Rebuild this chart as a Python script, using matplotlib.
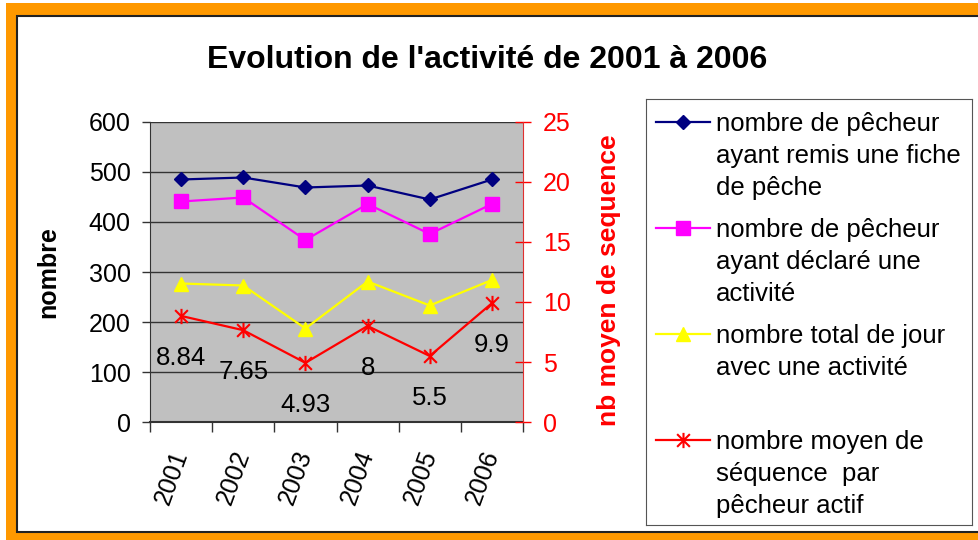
import matplotlib
matplotlib.use("Agg")
import matplotlib.pyplot as plt
from matplotlib.patches import Rectangle
from matplotlib.path import Path
from matplotlib.lines import Line2D

plt.rcParams['font.family'] = ['Liberation Sans', 'DejaVu Sans']

# donnees
annees = ['2001', '2002', '2003', '2004', '2005', '2006']
pecheurs_fiche = [485, 489, 469, 473, 445, 485]
pecheurs_activite = [441, 449, 364, 436, 376, 436]
jours_activite = [277, 273, 187, 281, 233, 284]
seq_moyen = [8.84, 7.65, 4.93, 8, 5.5, 9.9]

labels = ["nombre de pêcheur\nayant remis une fiche\nde pêche",
          "nombre de pêcheur\nayant déclaré une\nactivité",
          "nombre total de jour\navec une activité\n",
          "nombre moyen de\nséquence  par\npêcheur actif"]
couleurs = ['#000080', '#FF00FF', '#FFFF00', '#FF0000']

# etoile excel : croix + trait vertical
star = Path([(-1, -1), (1, 1), (-1, 1), (1, -1), (0, -1.2), (0, 1.2)],
            [Path.MOVETO, Path.LINETO, Path.MOVETO, Path.LINETO, Path.MOVETO, Path.LINETO])
marqueurs = [dict(marker='D', ms=7.2), dict(marker='s', ms=10),
             dict(marker='^', ms=9.5), dict(marker=star, ms=11, mew=1.5)]

W, H = 979, 540
fig = plt.figure(figsize=(W / 100, H / 100), dpi=100)

# cadre orange
fig.add_artist(Rectangle((6 / W, 0), 1, 537 / H, transform=fig.transFigure,
                         facecolor='#FF9900', edgecolor='none', zorder=-10))
fig.add_artist(Rectangle((17 / W, 8 / H), 1, 516 / H, transform=fig.transFigure,
                         facecolor='white', edgecolor='#222222', lw=1.5, zorder=-9))

ax = fig.add_axes([150 / W, (H - 422) / H, 373 / W, 300 / H])
x = list(range(len(annees)))
ax.set_facecolor('#C0C0C0')
for serie, c, m in zip([pecheurs_fiche, pecheurs_activite, jours_activite], couleurs, marqueurs):
    ax.plot(x, serie, color=c, lw=1.6, mec=c, mfc=c, clip_on=False, **m)
ax.set_xlim(-0.5, 5.5)
ax.set_ylim(0, 600)
ax.set_yticks(range(0, 601, 100))
ax.yaxis.grid(True, color='#333333', lw=1)
ax.set_axisbelow(True)
ax.set_xticks(x)
ax.set_xticklabels(annees, rotation=70, ha='right', va='center', rotation_mode='anchor')
ax.set_xticks([i - 0.5 for i in range(7)], minor=True)
ax.tick_params(axis='x', which='major', length=0, pad=21, labelsize=18)
ax.tick_params(axis='x', which='minor', length=7, width=1, color='#333333')
ax.tick_params(axis='y', length=6, width=1, color='#333333', pad=8, labelsize=18)
for s in ['top', 'right']:
    ax.spines[s].set_visible(False)
ax.spines['left'].set_color('#333333')
ax.spines['bottom'].set_color('#333333')
ax.spines['bottom'].set_linewidth(1.5)
ax.set_ylabel('nombre', fontsize=18, fontweight='bold')
ax.yaxis.set_label_coords(-0.241, 0.5)

ax2 = ax.twinx()
ax2.plot(x, seq_moyen, color=couleurs[3], lw=1.6, mec=couleurs[3], **marqueurs[3])
ax2.set_ylim(0, 25)
ax2.set_yticks(range(0, 26, 5))
ax2.tick_params(axis='y', colors='red', direction='inout', length=11, width=1, pad=9, labelsize=18)
for s in ['top', 'left', 'bottom']:
    ax2.spines[s].set_visible(False)
ax2.spines['right'].set_color('#E03030')
ax2.set_ylabel('nb moyen de sequence', fontsize=19, fontweight='bold', color='red')
ax2.yaxis.set_label_coords(1.198, 0.473)
for xi, v in zip(x, seq_moyen):
    ax2.annotate(f'{v:g}', (xi, v), xytext=(0, -42), textcoords='offset pixels',
                 ha='center', va='center', fontsize=18.5, color='black')

fig.text(487 / W, 1 - 60 / H, "Evolution de l'activité de 2001 à 2006",
         ha='center', va='center', fontsize=23, fontweight='bold')

# legende
lax = fig.add_axes([646 / W, (H - 525) / H, 326 / W, 426 / H])
lax.set_xlim(0, 326)
lax.set_ylim(426, 0)
lax.set_xticks([])
lax.set_yticks([])
for s in lax.spines.values():
    s.set_color('#555555')
y0 = 23
for lab, c, m in zip(labels, couleurs, marqueurs):
    lax.add_line(Line2D([10, 37, 64], [y0, y0, y0], color=c, lw=1.6, markevery=[1],
                        mec=c, mfc=c, **m))
    lignes = lab.split('\n')
    for k, t in enumerate(lignes):
        lax.text(70, y0 + 32 * k + 9, t, fontsize=18.5, va='baseline', ha='left')
    y0 += 32 * len(lignes) + 10

fig.savefig('out.png', dpi=100)
